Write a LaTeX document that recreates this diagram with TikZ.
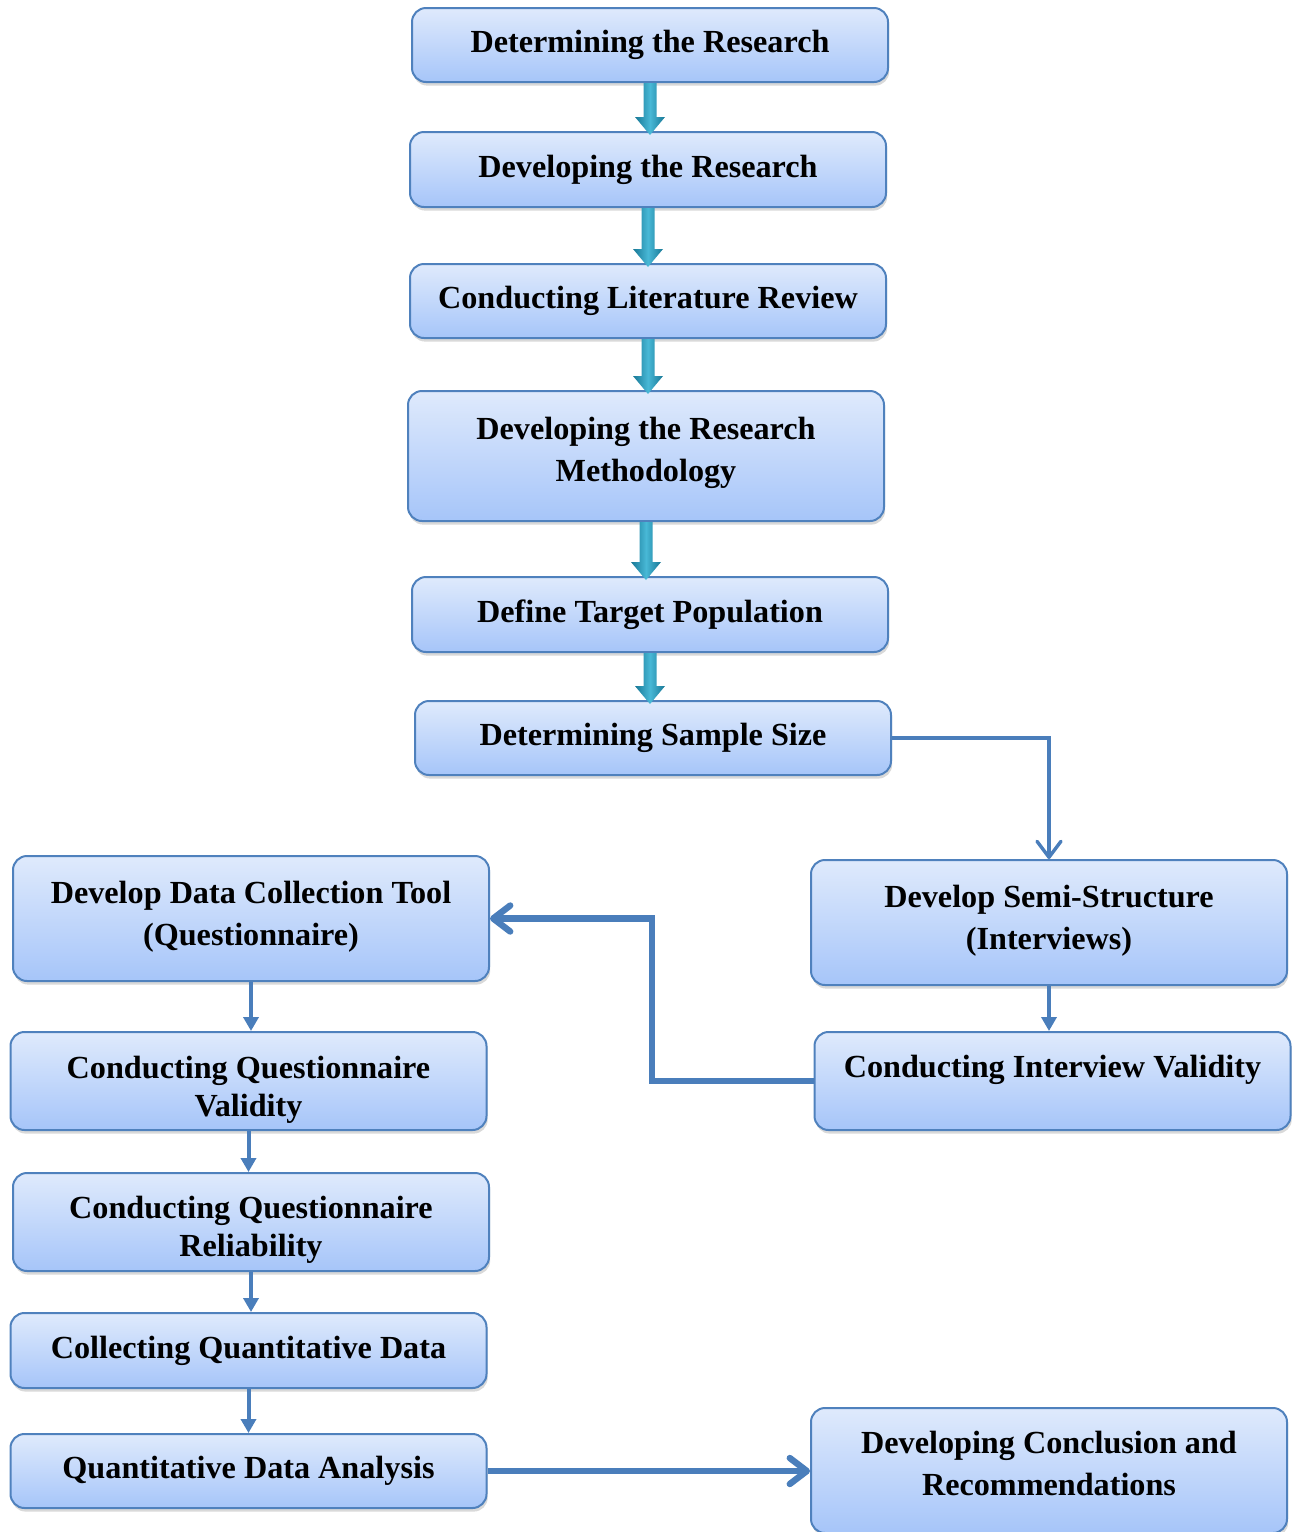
\documentclass[tikz,border=0pt]{standalone}
\usepackage{fontspec}
\setmainfont{Liberation Serif}
\usetikzlibrary{arrows.meta,shadows,calc}

\definecolor{boxline}{RGB}{79,129,189}
\definecolor{boxtop}{RGB}{223,234,252}
\definecolor{boxbot}{RGB}{166,197,249}
\definecolor{flow}{RGB}{74,126,187}
\definecolor{tealdark}{RGB}{24,120,150}
\definecolor{teallight}{RGB}{72,184,214}

\tikzset{
  box/.style={draw=boxline, line width=1pt, rounded corners=7pt,
    top color=boxtop, bottom color=boxbot,
    minimum width=238pt, inner sep=2pt, align=center,
    font=\fontsize{16.1pt}{21pt}\selectfont\bfseries,
    drop shadow={shadow xshift=0.6pt, shadow yshift=-1.8pt, opacity=0.3}},
  thin/.style={draw=flow, line width=2pt, -{Triangle[length=7pt,width=7.5pt]}},
  barb/.style={draw=flow, line width=1.7pt,
    -{Straight Barb[length=8pt,width=12pt,round]}},
  thick/.style={draw=flow, line width=3.2pt,
    -{Straight Barb[length=8.5pt,width=13pt,round]}},
  tealshade/.style={left color=tealdark, right color=tealdark, middle color=teallight}
}

% multi-line label whose ink is moved vertically without changing the box size
\newcommand\movedlines[2]{%
  \raisebox{#1}[\height][\depth]{\begin{tabular}{@{}c@{}}#2\end{tabular}}}

% 3D teal block arrow straight down from one node to the next
\newcommand\tealdown[2]{%
  \shade[tealshade] let \p1=(#1.south), \p2=(#2.north) in
    (\x1-3.25pt,\y1) -- (\x1+3.25pt,\y1) -- (\x1+3.25pt,\y2+7pt) --
    (\x1+7.5pt,\y2+7pt) -- (\x1,\y2-2pt) -- (\x1-7.5pt,\y2+7pt) --
    (\x1-3.25pt,\y2+7pt) -- cycle;}

\begin{document}
\begin{tikzpicture}[x=0.5pt, y=-0.5pt]
\useasboundingbox (0,0) rectangle (1292,1532);

% main sequence
\node[box, minimum height=37pt]   (n1) at (650,45)    {Determining the Research};
\node[box, minimum height=37.5pt] (n2) at (648,169.5) {Developing the Research};
\node[box, minimum height=37pt]   (n3) at (648,301)   {Conducting Literature Review};
\node[box, minimum height=65pt]   (n4) at (646,456)   {\movedlines{2pt}{Developing the Research\\Methodology}};
\node[box, minimum height=37.5pt] (n5) at (650,614.5) {Define Target Population};
\node[box, minimum height=37pt]   (n6) at (653,738)   {Determining Sample Size};

% interview branch
\node[box, minimum height=62.5pt] (n8)  at (1049,922.5) {\movedlines{1pt}{Develop Semi-Structure\\(Interviews)}};
\node[box, minimum height=49pt]   (n10) at (1052.5,1081) {Conducting Interview Validity\\[-6pt]~};

% questionnaire branch
\node[box, minimum height=62.5pt] (n7)  at (251,918.5)  {\movedlines{1pt}{Develop Data Collection Tool\\(Questionnaire)}};
\node[box, minimum height=49pt]   (n9)  at (248.5,1081) {\movedlines{-4pt}{Conducting Questionnaire\\[-2pt]Validity}};
\node[box, minimum height=49pt]   (n11) at (251,1222)   {\movedlines{-3.5pt}{Conducting Questionnaire\\[-2pt]Reliability}};
\node[box, minimum height=37.5pt] (n12) at (248.5,1350.5) {Collecting Quantitative Data};
\node[box, minimum height=37pt]   (n13) at (248.5,1471) {Quantitative Data Analysis};

% final step
\node[box, minimum height=62.5pt] (n14) at (1049,1470.5) {\movedlines{2pt}{Developing Conclusion and\\Recommendations}};

% teal block arrows
\tealdown{n1}{n2}
\tealdown{n2}{n3}
\tealdown{n3}{n4}
\tealdown{n4}{n5}
\tealdown{n5}{n6}

% connectors
\draw[barb] (n6.east) -| (n8.north);
\draw[thin] (n8.south) -- (n8.south |- n10.north);
\draw[thick] (n10.west) -- ($(n10.west)!1!(652,1081)$) |- (n7.east);
\draw[thin] (n7.south) -- (n7.south |- n9.north);
\draw[thin] (n9.south) -- (n9.south |- n11.north);
\draw[thin] (n11.south) -- (n11.south |- n12.north);
\draw[thin] (n12.south) -- (n12.south |- n13.north);
\draw[thick] (n13.east) -- (n14.west |- n13.east);
\end{tikzpicture}
\end{document}
